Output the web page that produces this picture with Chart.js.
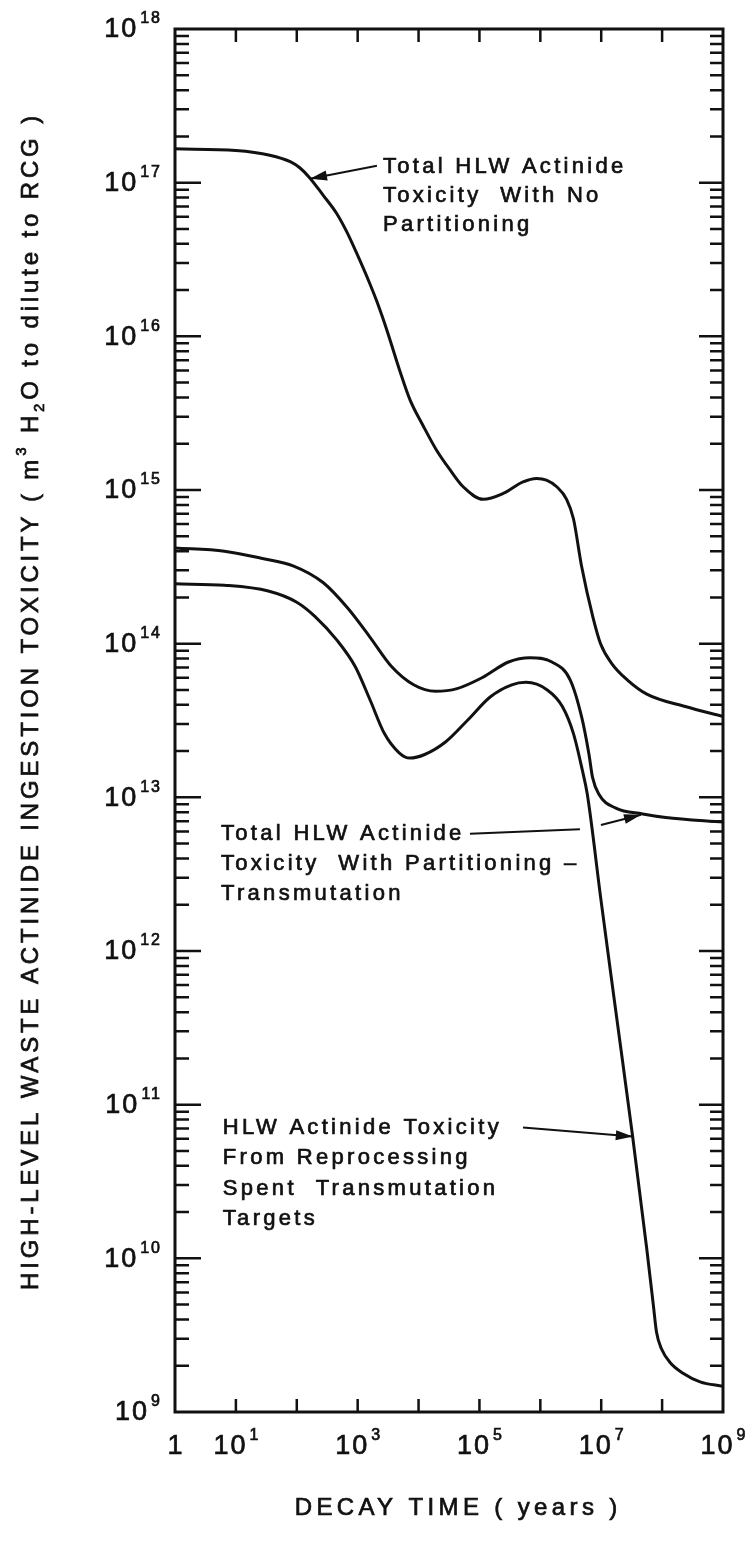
<!DOCTYPE html>
<html>
<head>
<meta charset="utf-8">
<script src="https://cdn.jsdelivr.net/npm/chart.js@4.4.0/dist/chart.umd.min.js"></script>
<style>
  html, body { margin: 0; padding: 0; background: #fff; }
  #wrap { width: 750px; height: 1543px; }
</style>
</head>
<body>
<div id="wrap"><canvas id="chart"></canvas></div>
<script>
// Decay time in years, toxicity in m3 of water needed to dilute to RCG
const noPartYears = [1, 10, 36, 78, 112, 165, 270, 452, 660, 955, 1585, 2040, 2630, 3390, 4900, 7240, 1.2e4,
  2.0e4, 3.3e4, 5.4e4, 1.15e5, 2.45e5, 5.2e5, 8.7e5, 1.26e6, 1.86e6, 2.7e6, 3.5e6, 4.75e6, 7.3e6, 9.75e6,
  1.5e7, 2.7e7, 5.6e7, 2.4e8, 1e9];
const noPartTox = [1.66e17, 1.62e17, 1.51e17, 1.37e17, 1.25e17, 1.07e17, 8.3e16, 6.3e16, 4.8e16, 3.5e16,
  2.2e16, 1.71e16, 1.29e16, 9.5e15, 6.0e15, 3.86e15, 2.6e15, 1.8e15, 1.35e15, 1.05e15, 8.7e14, 9.5e14,
  1.13e15, 1.19e15, 1.16e15, 1.05e15, 8.7e14, 6.5e14, 3.2e14, 1.49e14, 1.0e14, 7.4e13, 5.8e13, 4.7e13,
  3.9e13, 3.36e13];

const partYears = [1, 6.5, 26, 89, 270, 690, 1600, 3600, 8300, 1.9e4, 4.3e4, 1.1e5, 3.0e5, 6.8e5, 1.55e6,
  3.1e6, 4.8e6, 6.3e6, 7.2e6, 9.1e6, 1.74e7, 4.8e7, 1.15e8, 1e9];
const partTox = [4.2e14, 4.0e14, 3.6e14, 3.2e14, 2.5e14, 1.7e14, 1.1e14, 7.1e13, 5.4e13, 4.9e13, 5.1e13,
  6.0e13, 7.6e13, 8.1e13, 7.6e13, 5.8e13, 3.3e13, 1.9e13, 1.35e13, 1.05e13, 8.5e12, 7.8e12, 7.4e12, 6.9e12];

const targetYears = [1, 6.5, 34, 100, 200, 460, 910, 1600, 2750, 4800, 7200, 1.26e4, 2.8e4, 6.5e4, 1.5e5,
  3.4e5, 5.8e5, 1.3e6, 2.3e6, 3.5e6, 4.9e6, 5.9e6, 9.9e6, 1.64e7, 3.28e7, 5.6e7, 7.2e7, 8.1e7, 9.8e7,
  1.35e8, 2.24e8, 4.2e8, 1e9];
const targetTox = [2.45e14, 2.4e14, 2.2e14, 1.86e14, 1.5e14, 1.05e14, 7.1e13, 4.3e13, 2.6e13, 1.95e13,
  1.8e13, 1.9e13, 2.3e13, 3.2e13, 4.5e13, 5.4e13, 5.6e13, 5.0e13, 3.9e13, 2.6e13, 1.5e13, 1.05e13, 2.15e12,
  4.8e11, 6.2e10, 1.15e10, 4.9e9, 3.3e9, 2.57e9, 2.1e9, 1.78e9, 1.57e9, 1.47e9];

// tick labels: powers of ten shown on each axis (0 is printed as "1")
const xTickExp = [0, 1, 3, 5, 7, 9];
const yTickExp = [9, 10, 11, 12, 13, 14, 15, 16, 17, 18];

const noteNoPart = ['Total HLW Actinide', 'Toxicity  With No', 'Partitioning'];
const notePartTrans = ['Total HLW Actinide', 'Toxicity  With Partitioning \u2013', 'Transmutation'];
const noteTargets = ['HLW Actinide Toxicity', 'From Reprocessing', 'Spent  Transmutation', 'Targets'];

const xTitle = 'DECAY TIME ( years )';
// [text, shift] with shift -1 = superscript, 1 = subscript
const yTitle = [
  ['HIGH-LEVEL WASTE ACTINIDE INGESTION TOXICITY ( m', 0],
  ['3', -1],
  [' H', 0],
  ['2', 1],
  ['O to dilute to RCG )', 0]
];

const ink = '#111';
const sans = '"Liberation Sans", Arial, sans-serif';

// callouts, placed in data units (years, toxicity)
const notes = [
  { lines: noteNoPart, at: [2600, 1.26e17], gap: 29,
    leaders: [{ from: [2075, 1.29e17], to: [165, 1.06e17], head: true }] },
  { lines: notePartTrans, at: [5.7, 5.8e12], gap: 30,
    leaders: [{ from: [7.0e4, 5.8e12], to: [4.47e6, 6.2e12], head: false },
              { from: [9.9e6, 6.6e12], to: [4.5e7, 7.7e12], head: true }] },
  { lines: noteTargets, at: [6.1, 7.1e10], gap: 30.5,
    leaders: [{ from: [5.2e5, 7.1e10], to: [3.3e7, 6.2e10], head: true }] }
];

function pairs(xs, ys) {
  return xs.map((x, i) => ({ x, y: ys[i] }));
}

// text with letter spacing, slightly thickened like pen lettering
function putText(ctx, str, x, y, size, spacing, align) {
  ctx.font = `${size}px ${sans}`;
  ctx.letterSpacing = spacing + 'px';
  const w = ctx.measureText(str).width - spacing;
  let sx = x;
  if (align === 'center') sx = x - w / 2;
  else if (align === 'right') sx = x - w;
  ctx.textAlign = 'left';
  ctx.fillText(str, sx, y);
  ctx.lineWidth = 0.7;
  ctx.strokeText(str, sx, y);
  return w;
}

function powerLabel(ctx, exp, x, y, align) {
  ctx.textBaseline = 'middle';
  if (exp === 0) {
    putText(ctx, '1', x, y, 27, 0, 'center');
    return;
  }
  ctx.font = `27px ${sans}`;
  ctx.letterSpacing = '2px';
  const wb = ctx.measureText('10').width - 2;
  ctx.font = `16px ${sans}`;
  ctx.letterSpacing = '2px';
  const we = ctx.measureText(String(exp)).width - 2;
  const gap = 4;
  const total = wb + gap + we;
  const sx = align === 'right' ? x - total : x - total / 2;
  putText(ctx, '10', sx, y, 27, 2, 'left');
  putText(ctx, String(exp), sx + wb + gap, y - 11, 16, 2, 'left');
}

function fitSpacing(ctx, parts, target, size, small) {
  let w0 = 0, n = 0;
  ctx.letterSpacing = '0px';
  for (const [t, s] of parts) {
    ctx.font = `${s ? small : size}px ${sans}`;
    w0 += ctx.measureText(t).width;
    n += t.length;
  }
  return (target - w0) / n;
}

function arrowLine(ctx, x0, y0, x1, y1, head) {
  ctx.lineWidth = 2;
  ctx.beginPath();
  ctx.moveTo(x0, y0);
  ctx.lineTo(x1, y1);
  ctx.stroke();
  if (!head) return;
  const ang = Math.atan2(y1 - y0, x1 - x0);
  const len = 17, half = 5;
  ctx.beginPath();
  ctx.moveTo(x1, y1);
  ctx.lineTo(x1 - len * Math.cos(ang) + half * Math.sin(ang), y1 - len * Math.sin(ang) - half * Math.cos(ang));
  ctx.lineTo(x1 - len * Math.cos(ang) - half * Math.sin(ang), y1 - len * Math.sin(ang) + half * Math.cos(ang));
  ctx.closePath();
  ctx.fill();
}

// box, inward ticks, power-of-ten labels, axis titles and callouts
const frame = {
  id: 'frame',
  afterDatasetsDraw(chart) {
    const { ctx, chartArea: a, scales: { x, y } } = chart;
    ctx.save();
    ctx.strokeStyle = ink;
    ctx.fillStyle = ink;

    ctx.lineWidth = 2.5;
    ctx.beginPath();
    for (let d = 1; d < 9; d++) {
      const px = x.getPixelForValue(10 ** d);
      ctx.moveTo(px, a.top); ctx.lineTo(px, a.top + 13);
      ctx.moveTo(px, a.bottom); ctx.lineTo(px, a.bottom - 13);
    }
    for (let e = 9; e < 18; e++) {
      for (let m = 1; m < 10; m++) {
        if (e === 9 && m === 1) continue;
        const py = y.getPixelForValue(m * 10 ** e);
        const major = m === 1;
        ctx.moveTo(a.left, py); ctx.lineTo(a.left + (major ? 26 : 14), py);
        ctx.moveTo(a.right, py); ctx.lineTo(a.right - (major ? 24 : 13), py);
      }
    }
    ctx.stroke();

    ctx.lineWidth = 3;
    ctx.strokeRect(a.left, a.top, a.right - a.left, a.bottom - a.top);

    xTickExp.forEach(e => powerLabel(ctx, e, x.getPixelForValue(10 ** e), a.bottom + 35, 'center'));
    yTickExp.forEach(e => powerLabel(ctx, e, a.left - 15, y.getPixelForValue(10 ** e) + 1, 'right'));

    // x title
    ctx.textBaseline = 'middle';
    const xs = fitSpacing(ctx, [[xTitle, 0]], 327, 24, 24);
    putText(ctx, xTitle, 456, a.bottom + 96, 24, xs, 'center');

    // y title, rotated, with m3 superscript and H2O subscript
    const size = 24, small = 15;
    const sp = fitSpacing(ctx, yTitle, 1178, size, small);
    let total = 0;
    for (const [t, s] of yTitle) {
      ctx.font = `${s ? small : size}px ${sans}`;
      ctx.letterSpacing = sp + 'px';
      total += ctx.measureText(t).width;
    }
    ctx.save();
    ctx.translate(31, 701);
    ctx.rotate(-Math.PI / 2);
    let cx = -total / 2;
    for (const [t, s] of yTitle) {
      const sz = s ? small : size;
      cx += putText(ctx, t, cx, s * 9, sz, sp, 'left') + sp;
    }
    ctx.restore();

    // callouts
    for (const n of notes) {
      const tx = x.getPixelForValue(n.at[0]);
      const ty = y.getPixelForValue(n.at[1]);
      n.lines.forEach((line, i) => putText(ctx, line, tx, ty + i * n.gap, 22, 3.3, 'left'));
      for (const l of n.leaders) {
        arrowLine(ctx,
          x.getPixelForValue(l.from[0]), y.getPixelForValue(l.from[1]),
          x.getPixelForValue(l.to[0]), y.getPixelForValue(l.to[1]), l.head);
      }
    }
    ctx.restore();
  }
};

const lineStyle = {
  borderColor: ink,
  borderWidth: 3,
  pointRadius: 0,
  fill: false,
  cubicInterpolationMode: 'monotone',
  borderCapStyle: 'round',
  borderJoinStyle: 'round'
};

new Chart(document.getElementById('chart'), {
  type: 'line',
  data: {
    datasets: [
      { label: 'Total HLW actinide toxicity, no partitioning', data: pairs(noPartYears, noPartTox), ...lineStyle },
      { label: 'Total HLW actinide toxicity, partitioning-transmutation', data: pairs(partYears, partTox), ...lineStyle },
      { label: 'HLW actinide toxicity from spent transmutation targets', data: pairs(targetYears, targetTox), ...lineStyle }
    ]
  },
  options: {
    responsive: true,
    maintainAspectRatio: false,
    animation: false,
    devicePixelRatio: 1,
    layout: { padding: { left: 175, right: 27, top: 29, bottom: 131 } },
    scales: {
      x: { type: 'logarithmic', min: 1, max: 1e9, display: false },
      y: { type: 'logarithmic', min: 1e9, max: 1e18, display: false }
    },
    plugins: {
      legend: { display: false },
      tooltip: { enabled: false }
    }
  },
  plugins: [frame]
});
</script>
</body>
</html>
